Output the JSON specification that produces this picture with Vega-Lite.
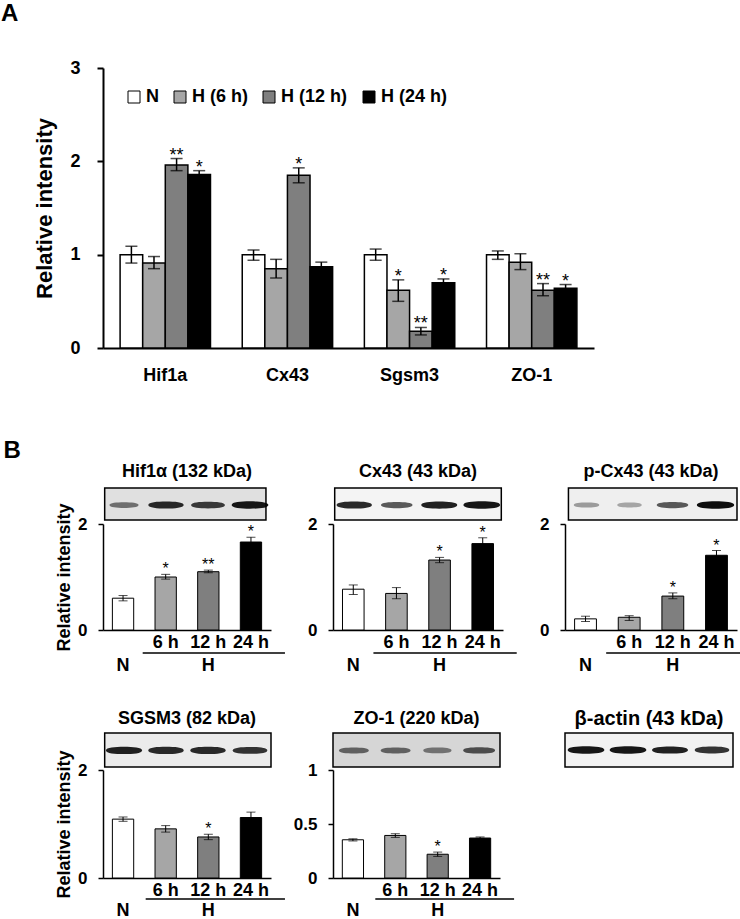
{
  "$schema": "https://vega.github.io/schema/vega-lite/v6.json",
  "padding": {"left": 0, "top": 2, "right": 5, "bottom": 0},
  "config": {"font": "Liberation Sans", "view": {"stroke": null}, "axis": {"grid": false}},
  "datasets": {
    "A": [
      {"gene": "Hif1a", "cond": "N", "mean": 1.0, "lo": 0.91, "hi": 1.09, "sig": ""},
      {"gene": "Hif1a", "cond": "H (6 h)", "mean": 0.91, "lo": 0.85, "hi": 0.98, "sig": ""},
      {"gene": "Hif1a", "cond": "H (12 h)", "mean": 1.96, "lo": 1.9, "hi": 2.03, "sig": "**"},
      {"gene": "Hif1a", "cond": "H (24 h)", "mean": 1.86, "lo": 1.84, "hi": 1.9, "sig": "*"},
      {"gene": "Cx43", "cond": "N", "mean": 1.0, "lo": 0.94, "hi": 1.05, "sig": ""},
      {"gene": "Cx43", "cond": "H (6 h)", "mean": 0.85, "lo": 0.75, "hi": 0.95, "sig": ""},
      {"gene": "Cx43", "cond": "H (12 h)", "mean": 1.85, "lo": 1.77, "hi": 1.93, "sig": "*"},
      {"gene": "Cx43", "cond": "H (24 h)", "mean": 0.87, "lo": 0.82, "hi": 0.92, "sig": ""},
      {"gene": "Sgsm3", "cond": "N", "mean": 1.0, "lo": 0.94, "hi": 1.06, "sig": ""},
      {"gene": "Sgsm3", "cond": "H (6 h)", "mean": 0.62, "lo": 0.5, "hi": 0.73, "sig": "*"},
      {"gene": "Sgsm3", "cond": "H (12 h)", "mean": 0.18, "lo": 0.14, "hi": 0.22, "sig": "**"},
      {"gene": "Sgsm3", "cond": "H (24 h)", "mean": 0.7, "lo": 0.66, "hi": 0.74, "sig": "*"},
      {"gene": "ZO-1", "cond": "N", "mean": 1.0, "lo": 0.95, "hi": 1.04, "sig": ""},
      {"gene": "ZO-1", "cond": "H (6 h)", "mean": 0.92, "lo": 0.84, "hi": 1.01, "sig": ""},
      {"gene": "ZO-1", "cond": "H (12 h)", "mean": 0.62, "lo": 0.56, "hi": 0.69, "sig": "**"},
      {"gene": "ZO-1", "cond": "H (24 h)", "mean": 0.64, "lo": 0.6, "hi": 0.68, "sig": "*"}
    ],
    "hif": [
      {"cond": "N", "mean": 0.6, "lo": 0.55, "hi": 0.65, "sig": ""},
      {"cond": "6 h", "mean": 1.0, "lo": 0.96, "hi": 1.05, "sig": "*"},
      {"cond": "12 h", "mean": 1.1, "lo": 1.08, "hi": 1.13, "sig": "**"},
      {"cond": "24 h", "mean": 1.66, "lo": 1.58, "hi": 1.75, "sig": "*"}
    ],
    "cx": [
      {"cond": "N", "mean": 0.77, "lo": 0.67, "hi": 0.85, "sig": ""},
      {"cond": "6 h", "mean": 0.69, "lo": 0.59, "hi": 0.8, "sig": ""},
      {"cond": "12 h", "mean": 1.32, "lo": 1.27, "hi": 1.37, "sig": "*"},
      {"cond": "24 h", "mean": 1.63, "lo": 1.51, "hi": 1.74, "sig": "*"}
    ],
    "pcx": [
      {"cond": "N", "mean": 0.21, "lo": 0.16, "hi": 0.26, "sig": ""},
      {"cond": "6 h", "mean": 0.24, "lo": 0.18, "hi": 0.27, "sig": ""},
      {"cond": "12 h", "mean": 0.64, "lo": 0.59, "hi": 0.7, "sig": "*"},
      {"cond": "24 h", "mean": 1.41, "lo": 1.3, "hi": 1.5, "sig": "*"}
    ],
    "sgsm": [
      {"cond": "N", "mean": 1.09, "lo": 1.05, "hi": 1.13, "sig": ""},
      {"cond": "6 h", "mean": 0.91, "lo": 0.85, "hi": 0.97, "sig": ""},
      {"cond": "12 h", "mean": 0.76, "lo": 0.71, "hi": 0.81, "sig": "*"},
      {"cond": "24 h", "mean": 1.12, "lo": 1.0, "hi": 1.22, "sig": ""}
    ],
    "zo": [
      {"cond": "N", "mean": 0.354, "lo": 0.343, "hi": 0.363, "sig": ""},
      {"cond": "6 h", "mean": 0.394, "lo": 0.376, "hi": 0.41, "sig": ""},
      {"cond": "12 h", "mean": 0.22, "lo": 0.2, "hi": 0.24, "sig": "*"},
      {"cond": "24 h", "mean": 0.37, "lo": 0.36, "hi": 0.38, "sig": ""}
    ],
    "blot_hif": [{"lane": "N", "intensity": 0.45}, {"lane": "6 h", "intensity": 0.85}, {"lane": "12 h", "intensity": 0.75}, {"lane": "24 h", "intensity": 0.95}],
    "blot_cx": [{"lane": "N", "intensity": 0.85}, {"lane": "6 h", "intensity": 0.6}, {"lane": "12 h", "intensity": 0.9}, {"lane": "24 h", "intensity": 0.95}],
    "blot_pcx": [{"lane": "N", "intensity": 0.25}, {"lane": "6 h", "intensity": 0.2}, {"lane": "12 h", "intensity": 0.6}, {"lane": "24 h", "intensity": 1.0}],
    "blot_sgsm": [{"lane": "N", "intensity": 0.9}, {"lane": "6 h", "intensity": 0.85}, {"lane": "12 h", "intensity": 0.85}, {"lane": "24 h", "intensity": 0.8}],
    "blot_zo": [{"lane": "N", "intensity": 0.5}, {"lane": "6 h", "intensity": 0.5}, {"lane": "12 h", "intensity": 0.4}, {"lane": "24 h", "intensity": 0.62}],
    "blot_actin": [{"lane": "N", "intensity": 0.95}, {"lane": "6 h", "intensity": 0.95}, {"lane": "12 h", "intensity": 0.9}, {"lane": "24 h", "intensity": 0.8}]
  },
  "columns": 1,
  "align": "none",
  "spacing": 55,
  "resolve": {"scale": {"x": "independent", "y": "independent", "fill": "independent"}},
  "concat": [
    {
      "title": {"text": "A", "anchor": "start", "frame": "bounds", "fontSize": 24, "fontWeight": "bold", "dx": -33, "offset": 33, "color": "black"},
      "width": 491, "height": 280,
      "data": {"name": "A"},
      "encoding": {
        "x": {"field": "gene", "type": "nominal", "sort": ["Hif1a", "Cx43", "Sgsm3", "ZO-1"], "scale": {"paddingInner": 0.26, "paddingOuter": 0.14},
              "axis": {"title": null, "labelAngle": 0, "labelFontSize": 18, "labelFontWeight": "bold", "labelColor": "black", "domainColor": "black", "domainWidth": 2, "ticks": false, "tickSize": 0, "labelPadding": 18}},
        "xOffset": {"field": "cond", "type": "nominal", "sort": ["N", "H (6 h)", "H (12 h)", "H (24 h)"], "scale": {"paddingInner": 0, "paddingOuter": 0}}
      },
      "layer": [
        {"mark": {"type": "bar", "stroke": "black", "strokeWidth": 1.5},
         "encoding": {
           "y": {"field": "mean", "type": "quantitative", "scale": {"domain": [0, 3]},
                 "axis": {"title": "Relative intensity", "values": [0, 1, 2, 3], "format": "d", "titleFontSize": 22, "titleFontWeight": "bold", "titleColor": "black", "labelFontSize": 18, "labelFontWeight": "bold", "labelColor": "black", "domainColor": "black", "domainWidth": 2, "tickColor": "black", "tickWidth": 2, "tickSize": 6, "labelPadding": 17, "titlePadding": 13}},
           "fill": {"field": "cond", "type": "nominal", "scale": {"domain": ["N", "H (6 h)", "H (12 h)", "H (24 h)"], "range": ["#ffffff", "#a6a6a6", "#7f7f7f", "#000000"]},
                    "legend": {"orient": "none", "legendX": 22, "legendY": 20, "direction": "horizontal", "columns": 4, "title": null, "symbolType": "square", "symbolSize": 144, "symbolStrokeColor": "black", "symbolStrokeWidth": 1, "labelFontSize": 18, "labelFontWeight": "bold", "labelColor": "black", "columnPadding": 12, "labelOffset": 3}}
         }},
        {"mark": {"type": "rule", "color": "black", "strokeWidth": 1.5},
         "encoding": {"y": {"field": "lo", "type": "quantitative"}, "y2": {"field": "hi"}}},
        {"mark": {"type": "tick", "color": "black", "thickness": 1.5, "size": 12},
         "encoding": {"y": {"field": "lo", "type": "quantitative"}}},
        {"mark": {"type": "tick", "color": "black", "thickness": 1.5, "size": 12},
         "encoding": {"y": {"field": "hi", "type": "quantitative"}}},
        {"mark": {"type": "text", "fontSize": 18, "baseline": "alphabetic", "dy": 2, "color": "black"},
         "encoding": {"y": {"field": "hi", "type": "quantitative"}, "text": {"field": "sig"}}}
      ]
    },
    {
      "title": {"text": "B", "anchor": "start", "frame": "bounds", "fontSize": 24, "fontWeight": "bold", "dx": -52, "offset": 0, "color": "black"},
      "bounds": "flush",
      "columns": 3,
      "spacing": {"row": 103, "column": 62},
      "resolve": {"scale": {"x": "independent", "y": "independent", "fill": "independent"}},
      "concat": [
        {
          "width": 168, "height": 142,
          "title": {"text": "Hif1α (132 kDa)", "fontSize": 18, "fontWeight": "bold", "offset": 6, "color": "black"},
          "resolve": {"scale": {"x": "independent", "y": "independent"}},
          "layer": [
            {
              "resolve": {"scale": {"x": "independent"}},
              "layer": [
                {"data": {"values": [{"blot": "Hif1α"}]}, "mark": {"type": "rect", "fill": "#e0e0e0", "stroke": "black", "strokeWidth": 1.5},
                 "encoding": {"x": {"datum": 0.01, "type": "quantitative", "scale": {"domain": [0, 1]}, "axis": null}, "x2": {"datum": 0.97},
                              "y": {"datum": 0.775, "type": "quantitative", "scale": {"domain": [0, 1]}, "axis": null}, "y2": {"datum": 1}}},
                {"data": {"name": "blot_hif"}, "mark": {"type": "point", "shape": "M-1,0C-1,-0.16-0.5,-0.2 0,-0.2C0.5,-0.2 1,-0.16 1,0C1,0.16 0.5,0.2 0,0.2C-0.5,0.2 -1,0.16 -1,0Z", "filled": true, "color": "black"},
                 "encoding": {"x": {"field": "lane", "type": "nominal", "sort": ["N", "6 h", "12 h", "24 h"], "axis": null, "scale": {"paddingInner": 0.1, "paddingOuter": 0.1}},
                              "y": {"datum": 0.88, "type": "quantitative", "scale": {"domain": [0, 1]}, "axis": null},
                              "size": {"field": "intensity", "type": "quantitative", "scale": {"domain": [0, 1], "range": [400, 1400]}, "legend": null},
                              "opacity": {"field": "intensity", "type": "quantitative", "scale": {"domain": [0, 1], "range": [0.15, 0.95]}, "legend": null}}}
              ]
            },
            {
              "data": {"name": "hif"},
              "encoding": {"x": {"field": "cond", "type": "nominal", "sort": ["N", "6 h", "12 h", "24 h"], "scale": {"paddingInner": 0.5, "paddingOuter": 0.22},
                "axis": {"title": null, "labelAngle": 0, "labelExpr": "datum.value == 'N' ? ['', 'N'] : datum.value == '12 h' ? ['12 h', 'H'] : [datum.value, '']", "labelLineHeight": 23, "labelFontSize": 18, "labelFontWeight": "bold", "labelColor": "black", "domainColor": "black", "domainWidth": 1.5, "ticks": false, "tickSize": 0, "labelPadding": 3}}},
              "layer": [
                {"mark": {"type": "bar", "stroke": "black", "strokeWidth": 1},
                 "encoding": {"y": {"field": "mean", "type": "quantitative", "scale": {"domain": [0, 2], "range": [142, 36], "nice": false},
                   "axis": {"title": "Relative intensity", "values": [0, 1, 2], "format": "d", "titleFontSize": 18, "titleFontWeight": "bold", "titleColor": "black", "labelFontSize": 17, "labelFontWeight": "bold", "labelColor": "black", "domainColor": "black", "domainWidth": 1.5, "tickColor": "black", "tickWidth": 1.5, "tickSize": 5, "labelPadding": 11, "titlePadding": 4}},
                   "fill": {"field": "cond", "type": "nominal", "scale": {"domain": ["N", "6 h", "12 h", "24 h"], "range": ["#ffffff", "#a6a6a6", "#7f7f7f", "#000000"]}, "legend": null}}},
                {"mark": {"type": "rule", "color": "black", "strokeWidth": 1}, "encoding": {"y": {"field": "lo", "type": "quantitative"}, "y2": {"field": "hi"}}},
                {"mark": {"type": "tick", "color": "black", "thickness": 1, "size": 9}, "encoding": {"y": {"field": "lo", "type": "quantitative"}}},
                {"mark": {"type": "tick", "color": "black", "thickness": 1, "size": 9}, "encoding": {"y": {"field": "hi", "type": "quantitative"}}},
                {"mark": {"type": "text", "fontSize": 16, "baseline": "alphabetic", "dy": 0, "color": "black"}, "encoding": {"y": {"field": "hi", "type": "quantitative"}, "text": {"field": "sig"}}},
                {"data": {"values": [{"group": "H"}]}, "mark": {"type": "rule", "color": "black", "strokeWidth": 1.5, "xOffset": -23, "x2Offset": 34, "yOffset": 23},
                 "encoding": {"x": {"datum": "6 h"}, "x2": {"datum": "24 h"}, "y": {"datum": 0}}}
              ]
            }
          ]
        },
        {
          "width": 170, "height": 142,
          "title": {"text": "Cx43 (43 kDa)", "fontSize": 18, "fontWeight": "bold", "offset": 6, "color": "black"},
          "resolve": {"scale": {"x": "independent", "y": "independent"}},
          "layer": [
            {
              "resolve": {"scale": {"x": "independent"}},
              "layer": [
                {"data": {"values": [{"blot": "Cx43"}]}, "mark": {"type": "rect", "fill": "#f4f4f4", "stroke": "black", "strokeWidth": 1.5},
                 "encoding": {"x": {"datum": 0.01, "type": "quantitative", "scale": {"domain": [0, 1]}, "axis": null}, "x2": {"datum": 0.99},
                              "y": {"datum": 0.775, "type": "quantitative", "scale": {"domain": [0, 1]}, "axis": null}, "y2": {"datum": 1}}},
                {"data": {"name": "blot_cx"}, "mark": {"type": "point", "shape": "M-1,0C-1,-0.16-0.5,-0.2 0,-0.2C0.5,-0.2 1,-0.16 1,0C1,0.16 0.5,0.2 0,0.2C-0.5,0.2 -1,0.16 -1,0Z", "filled": true, "color": "black"},
                 "encoding": {"x": {"field": "lane", "type": "nominal", "sort": ["N", "6 h", "12 h", "24 h"], "axis": null, "scale": {"paddingInner": 0.1, "paddingOuter": 0.1}},
                              "y": {"datum": 0.88, "type": "quantitative", "scale": {"domain": [0, 1]}, "axis": null},
                              "size": {"field": "intensity", "type": "quantitative", "scale": {"domain": [0, 1], "range": [400, 1400]}, "legend": null},
                              "opacity": {"field": "intensity", "type": "quantitative", "scale": {"domain": [0, 1], "range": [0.15, 0.95]}, "legend": null}}}
              ]
            },
            {
              "data": {"name": "cx"},
              "encoding": {"x": {"field": "cond", "type": "nominal", "sort": ["N", "6 h", "12 h", "24 h"], "scale": {"paddingInner": 0.5, "paddingOuter": 0.22},
                "axis": {"title": null, "labelAngle": 0, "labelExpr": "datum.value == 'N' ? ['', 'N'] : datum.value == '12 h' ? ['12 h', 'H'] : [datum.value, '']", "labelLineHeight": 23, "labelFontSize": 18, "labelFontWeight": "bold", "labelColor": "black", "domainColor": "black", "domainWidth": 1.5, "ticks": false, "tickSize": 0, "labelPadding": 3}}},
              "layer": [
                {"mark": {"type": "bar", "stroke": "black", "strokeWidth": 1},
                 "encoding": {"y": {"field": "mean", "type": "quantitative", "scale": {"domain": [0, 2], "range": [142, 36], "nice": false},
                   "axis": {"title": null, "values": [0, 1, 2], "format": "d", "labelFontSize": 17, "labelFontWeight": "bold", "labelColor": "black", "domainColor": "black", "domainWidth": 1.5, "tickColor": "black", "tickWidth": 1.5, "tickSize": 5, "labelPadding": 11}},
                   "fill": {"field": "cond", "type": "nominal", "scale": {"domain": ["N", "6 h", "12 h", "24 h"], "range": ["#ffffff", "#a6a6a6", "#7f7f7f", "#000000"]}, "legend": null}}},
                {"mark": {"type": "rule", "color": "black", "strokeWidth": 1}, "encoding": {"y": {"field": "lo", "type": "quantitative"}, "y2": {"field": "hi"}}},
                {"mark": {"type": "tick", "color": "black", "thickness": 1, "size": 9}, "encoding": {"y": {"field": "lo", "type": "quantitative"}}},
                {"mark": {"type": "tick", "color": "black", "thickness": 1, "size": 9}, "encoding": {"y": {"field": "hi", "type": "quantitative"}}},
                {"mark": {"type": "text", "fontSize": 16, "baseline": "alphabetic", "dy": 0, "color": "black"}, "encoding": {"y": {"field": "hi", "type": "quantitative"}, "text": {"field": "sig"}}},
                {"data": {"values": [{"group": "H"}]}, "mark": {"type": "rule", "color": "black", "strokeWidth": 1.5, "xOffset": -23, "x2Offset": 34, "yOffset": 23},
                 "encoding": {"x": {"datum": "6 h"}, "x2": {"datum": "24 h"}, "y": {"datum": 0}}}
              ]
            }
          ]
        },
        {
          "width": 172, "height": 142,
          "title": {"text": "p-Cx43 (43 kDa)", "fontSize": 18, "fontWeight": "bold", "offset": 6, "color": "black"},
          "resolve": {"scale": {"x": "independent", "y": "independent"}},
          "layer": [
            {
              "resolve": {"scale": {"x": "independent"}},
              "layer": [
                {"data": {"values": [{"blot": "p-Cx43"}]}, "mark": {"type": "rect", "fill": "#efefef", "stroke": "black", "strokeWidth": 1.5},
                 "encoding": {"x": {"datum": 0.02, "type": "quantitative", "scale": {"domain": [0, 1]}, "axis": null}, "x2": {"datum": 1},
                              "y": {"datum": 0.775, "type": "quantitative", "scale": {"domain": [0, 1]}, "axis": null}, "y2": {"datum": 1}}},
                {"data": {"name": "blot_pcx"}, "mark": {"type": "point", "shape": "M-1,0C-1,-0.16-0.5,-0.2 0,-0.2C0.5,-0.2 1,-0.16 1,0C1,0.16 0.5,0.2 0,0.2C-0.5,0.2 -1,0.16 -1,0Z", "filled": true, "color": "black"},
                 "encoding": {"x": {"field": "lane", "type": "nominal", "sort": ["N", "6 h", "12 h", "24 h"], "axis": null, "scale": {"paddingInner": 0.1, "paddingOuter": 0.1}},
                              "y": {"datum": 0.88, "type": "quantitative", "scale": {"domain": [0, 1]}, "axis": null},
                              "size": {"field": "intensity", "type": "quantitative", "scale": {"domain": [0, 1], "range": [400, 1500]}, "legend": null},
                              "opacity": {"field": "intensity", "type": "quantitative", "scale": {"domain": [0, 1], "range": [0.1, 0.95]}, "legend": null}}}
              ]
            },
            {
              "data": {"name": "pcx"},
              "encoding": {"x": {"field": "cond", "type": "nominal", "sort": ["N", "6 h", "12 h", "24 h"], "scale": {"paddingInner": 0.5, "paddingOuter": 0.22},
                "axis": {"title": null, "labelAngle": 0, "labelExpr": "datum.value == 'N' ? ['', 'N'] : datum.value == '12 h' ? ['12 h', 'H'] : [datum.value, '']", "labelLineHeight": 23, "labelFontSize": 18, "labelFontWeight": "bold", "labelColor": "black", "domainColor": "black", "domainWidth": 1.5, "ticks": false, "tickSize": 0, "labelPadding": 3}}},
              "layer": [
                {"mark": {"type": "bar", "stroke": "black", "strokeWidth": 1},
                 "encoding": {"y": {"field": "mean", "type": "quantitative", "scale": {"domain": [0, 2], "range": [142, 36], "nice": false},
                   "axis": {"title": null, "values": [0, 1, 2], "format": "d", "labelFontSize": 17, "labelFontWeight": "bold", "labelColor": "black", "domainColor": "black", "domainWidth": 1.5, "tickColor": "black", "tickWidth": 1.5, "tickSize": 5, "labelPadding": 11}},
                   "fill": {"field": "cond", "type": "nominal", "scale": {"domain": ["N", "6 h", "12 h", "24 h"], "range": ["#ffffff", "#a6a6a6", "#7f7f7f", "#000000"]}, "legend": null}}},
                {"mark": {"type": "rule", "color": "black", "strokeWidth": 1}, "encoding": {"y": {"field": "lo", "type": "quantitative"}, "y2": {"field": "hi"}}},
                {"mark": {"type": "tick", "color": "black", "thickness": 1, "size": 9}, "encoding": {"y": {"field": "lo", "type": "quantitative"}}},
                {"mark": {"type": "tick", "color": "black", "thickness": 1, "size": 9}, "encoding": {"y": {"field": "hi", "type": "quantitative"}}},
                {"mark": {"type": "text", "fontSize": 16, "baseline": "alphabetic", "dy": 0, "color": "black"}, "encoding": {"y": {"field": "hi", "type": "quantitative"}, "text": {"field": "sig"}}},
                {"data": {"values": [{"group": "H"}]}, "mark": {"type": "rule", "color": "black", "strokeWidth": 1.5, "xOffset": -23, "x2Offset": 34, "yOffset": 23},
                 "encoding": {"x": {"datum": "6 h"}, "x2": {"datum": "24 h"}, "y": {"datum": 0}}}
              ]
            }
          ]
        },
        {
          "width": 168, "height": 145,
          "title": {"text": "SGSM3 (82 kDa)", "fontSize": 18, "fontWeight": "bold", "offset": 4, "color": "black"},
          "resolve": {"scale": {"x": "independent", "y": "independent"}},
          "layer": [
            {
              "resolve": {"scale": {"x": "independent"}},
              "layer": [
                {"data": {"values": [{"blot": "SGSM3"}]}, "mark": {"type": "rect", "fill": "#ebebeb", "stroke": "black", "strokeWidth": 1.5},
                 "encoding": {"x": {"datum": 0.01, "type": "quantitative", "scale": {"domain": [0, 1]}, "axis": null}, "x2": {"datum": 1},
                              "y": {"datum": 0.766, "type": "quantitative", "scale": {"domain": [0, 1]}, "axis": null}, "y2": {"datum": 1}}},
                {"data": {"name": "blot_sgsm"}, "mark": {"type": "point", "shape": "M-1,0C-1,-0.16-0.5,-0.2 0,-0.2C0.5,-0.2 1,-0.16 1,0C1,0.16 0.5,0.2 0,0.2C-0.5,0.2 -1,0.16 -1,0Z", "filled": true, "color": "black"},
                 "encoding": {"x": {"field": "lane", "type": "nominal", "sort": ["N", "6 h", "12 h", "24 h"], "axis": null, "scale": {"paddingInner": 0.1, "paddingOuter": 0.1}},
                              "y": {"datum": 0.88, "type": "quantitative", "scale": {"domain": [0, 1]}, "axis": null},
                              "size": {"field": "intensity", "type": "quantitative", "scale": {"domain": [0, 1], "range": [400, 1400]}, "legend": null},
                              "opacity": {"field": "intensity", "type": "quantitative", "scale": {"domain": [0, 1], "range": [0.15, 0.95]}, "legend": null}}}
              ]
            },
            {
              "data": {"name": "sgsm"},
              "encoding": {"x": {"field": "cond", "type": "nominal", "sort": ["N", "6 h", "12 h", "24 h"], "scale": {"paddingInner": 0.5, "paddingOuter": 0.22},
                "axis": {"title": null, "labelAngle": 0, "labelExpr": "datum.value == 'N' ? ['', 'N'] : datum.value == '12 h' ? ['12 h', 'H'] : [datum.value, '']", "labelLineHeight": 20, "labelFontSize": 18, "labelFontWeight": "bold", "labelColor": "black", "domainColor": "black", "domainWidth": 1.5, "ticks": false, "tickSize": 0, "labelPadding": 3}}},
              "layer": [
                {"mark": {"type": "bar", "stroke": "black", "strokeWidth": 1},
                 "encoding": {"y": {"field": "mean", "type": "quantitative", "scale": {"domain": [0, 2], "range": [145, 37], "nice": false},
                   "axis": {"title": "Relative intensity", "values": [0, 1, 2], "format": "d", "titleFontSize": 18, "titleFontWeight": "bold", "titleColor": "black", "labelFontSize": 17, "labelFontWeight": "bold", "labelColor": "black", "domainColor": "black", "domainWidth": 1.5, "tickColor": "black", "tickWidth": 1.5, "tickSize": 5, "labelPadding": 11, "titlePadding": 4}},
                   "fill": {"field": "cond", "type": "nominal", "scale": {"domain": ["N", "6 h", "12 h", "24 h"], "range": ["#ffffff", "#a6a6a6", "#7f7f7f", "#000000"]}, "legend": null}}},
                {"mark": {"type": "rule", "color": "black", "strokeWidth": 1}, "encoding": {"y": {"field": "lo", "type": "quantitative"}, "y2": {"field": "hi"}}},
                {"mark": {"type": "tick", "color": "black", "thickness": 1, "size": 9}, "encoding": {"y": {"field": "lo", "type": "quantitative"}}},
                {"mark": {"type": "tick", "color": "black", "thickness": 1, "size": 9}, "encoding": {"y": {"field": "hi", "type": "quantitative"}}},
                {"mark": {"type": "text", "fontSize": 16, "baseline": "alphabetic", "dy": 0, "color": "black"}, "encoding": {"y": {"field": "hi", "type": "quantitative"}, "text": {"field": "sig"}}},
                {"data": {"values": [{"group": "H"}]}, "mark": {"type": "rule", "color": "black", "strokeWidth": 1.5, "xOffset": -20, "x2Offset": 34, "yOffset": 21},
                 "encoding": {"x": {"datum": "6 h"}, "x2": {"datum": "24 h"}, "y": {"datum": 0}}}
              ]
            }
          ]
        },
        {
          "width": 167, "height": 145,
          "title": {"text": "ZO-1 (220 kDa)", "fontSize": 18, "fontWeight": "bold", "offset": 4, "color": "black"},
          "resolve": {"scale": {"x": "independent", "y": "independent"}},
          "layer": [
            {
              "resolve": {"scale": {"x": "independent"}},
              "layer": [
                {"data": {"values": [{"blot": "ZO-1"}]}, "mark": {"type": "rect", "fill": "#d6d6d6", "stroke": "black", "strokeWidth": 1.5},
                 "encoding": {"x": {"datum": 0, "type": "quantitative", "scale": {"domain": [0, 1]}, "axis": null}, "x2": {"datum": 1},
                              "y": {"datum": 0.766, "type": "quantitative", "scale": {"domain": [0, 1]}, "axis": null}, "y2": {"datum": 1}}},
                {"data": {"name": "blot_zo"}, "mark": {"type": "point", "shape": "M-1,0C-1,-0.16-0.5,-0.2 0,-0.2C0.5,-0.2 1,-0.16 1,0C1,0.16 0.5,0.2 0,0.2C-0.5,0.2 -1,0.16 -1,0Z", "filled": true, "color": "black"},
                 "encoding": {"x": {"field": "lane", "type": "nominal", "sort": ["N", "6 h", "12 h", "24 h"], "axis": null, "scale": {"paddingInner": 0.1, "paddingOuter": 0.1}},
                              "y": {"datum": 0.88, "type": "quantitative", "scale": {"domain": [0, 1]}, "axis": null},
                              "size": {"field": "intensity", "type": "quantitative", "scale": {"domain": [0, 1], "range": [500, 1500]}, "legend": null},
                              "opacity": {"field": "intensity", "type": "quantitative", "scale": {"domain": [0, 1], "range": [0.15, 0.95]}, "legend": null}}}
              ]
            },
            {
              "data": {"name": "zo"},
              "encoding": {"x": {"field": "cond", "type": "nominal", "sort": ["N", "6 h", "12 h", "24 h"], "scale": {"paddingInner": 0.5, "paddingOuter": 0.22},
                "axis": {"title": null, "labelAngle": 0, "labelExpr": "datum.value == 'N' ? ['', 'N'] : datum.value == '12 h' ? ['12 h', 'H'] : [datum.value, '']", "labelLineHeight": 20, "labelFontSize": 18, "labelFontWeight": "bold", "labelColor": "black", "domainColor": "black", "domainWidth": 1.5, "ticks": false, "tickSize": 0, "labelPadding": 3}}},
              "layer": [
                {"mark": {"type": "bar", "stroke": "black", "strokeWidth": 1},
                 "encoding": {"y": {"field": "mean", "type": "quantitative", "scale": {"domain": [0, 1], "range": [145, 37], "nice": false},
                   "axis": {"title": null, "values": [0, 0.5, 1], "format": "~g", "labelFontSize": 17, "labelFontWeight": "bold", "labelColor": "black", "domainColor": "black", "domainWidth": 1.5, "tickColor": "black", "tickWidth": 1.5, "tickSize": 5, "labelPadding": 11}},
                   "fill": {"field": "cond", "type": "nominal", "scale": {"domain": ["N", "6 h", "12 h", "24 h"], "range": ["#ffffff", "#a6a6a6", "#7f7f7f", "#000000"]}, "legend": null}}},
                {"mark": {"type": "rule", "color": "black", "strokeWidth": 1}, "encoding": {"y": {"field": "lo", "type": "quantitative"}, "y2": {"field": "hi"}}},
                {"mark": {"type": "tick", "color": "black", "thickness": 1, "size": 9}, "encoding": {"y": {"field": "lo", "type": "quantitative"}}},
                {"mark": {"type": "tick", "color": "black", "thickness": 1, "size": 9}, "encoding": {"y": {"field": "hi", "type": "quantitative"}}},
                {"mark": {"type": "text", "fontSize": 16, "baseline": "alphabetic", "dy": 0, "color": "black"}, "encoding": {"y": {"field": "hi", "type": "quantitative"}, "text": {"field": "sig"}}},
                {"data": {"values": [{"group": "H"}]}, "mark": {"type": "rule", "color": "black", "strokeWidth": 1.5, "xOffset": -20, "x2Offset": 34, "yOffset": 21},
                 "encoding": {"x": {"datum": "6 h"}, "x2": {"datum": "24 h"}, "y": {"datum": 0}}}
              ]
            }
          ]
        },
        {
          "width": 168, "height": 34, "view": {"stroke": "black", "strokeWidth": 1.5, "fill": "#f2f2f2"},
          "title": {"text": "β-actin (43 kDa)", "fontSize": 20, "fontWeight": "bold", "offset": 4, "color": "black"},
          "data": {"name": "blot_actin"},
          "mark": {"type": "point", "shape": "M-1,0C-1,-0.16-0.5,-0.2 0,-0.2C0.5,-0.2 1,-0.16 1,0C1,0.16 0.5,0.2 0,0.2C-0.5,0.2 -1,0.16 -1,0Z", "filled": true, "color": "black"},
          "encoding": {
            "x": {"field": "lane", "type": "nominal", "sort": ["N", "6 h", "12 h", "24 h"], "axis": null, "scale": {"paddingInner": 0.1, "paddingOuter": 0.15}},
            "size": {"field": "intensity", "type": "quantitative", "scale": {"domain": [0, 1], "range": [600, 1100]}, "legend": null},
            "opacity": {"field": "intensity", "type": "quantitative", "scale": {"domain": [0, 1], "range": [0.15, 0.95]}, "legend": null}
          }
        }
      ]
    }
  ]
}
